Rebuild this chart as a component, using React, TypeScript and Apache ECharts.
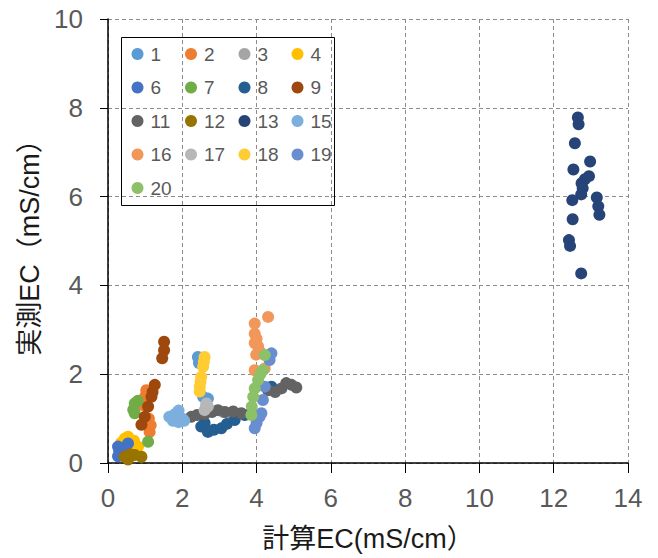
import React, { useEffect, useRef } from "react";
import * as echarts from "echarts";

const xTicks = [0, 2, 4, 6, 8, 10, 12, 14];
const yTicks = [0, 2, 4, 6, 8, 10];

const seriesNames = ["1", "2", "3", "4", "6", "7", "8", "9", "11", "12", "13", "15", "16", "17", "18", "19", "20"];
const seriesColors = ["#5B9BD5", "#ED7D31", "#A5A5A5", "#FFC000", "#4472C4", "#70AD47", "#255E91", "#9E480E", "#636363", "#997300", "#264478", "#7CAFDD", "#F1975A", "#B7B7B7", "#FFCD33", "#698ED0", "#8CC168"];

const s1 = [[2.42, 2.39], [2.45, 2.25], [2.56, 1.49], [2.69, 1.45], [2.65, 1.3]];
const s2 = [[1.03, 1.64], [1.0, 1.5], [1.12, 0.7], [1.15, 0.85], [0.95, 1.3], [1.1, 1.0]];
const s3 = [[3.1, 1.15], [3.3, 1.12]];
const s4 = [[0.54, 0.59], [0.81, 0.37], [0.45, 0.55], [0.7, 0.5], [0.35, 0.45]];
const s6 = [[0.27, 0.37], [0.36, 0.22], [0.54, 0.44], [0.3, 0.28], [0.45, 0.35], [0.27, 0.15]];
const s7 = [[0.72, 1.34], [0.72, 1.12], [0.8, 1.4], [0.68, 1.2], [1.08, 0.48]];
const s8 = [[2.51, 0.82], [2.69, 0.7], [2.85, 0.75], [3.05, 0.78], [3.2, 0.88], [3.41, 0.97], [3.68, 1.08], [4.4, 1.72], [2.6, 0.9]];
const s9 = [[1.51, 2.73], [1.51, 2.54], [1.46, 2.36], [1.26, 1.76], [1.2, 1.6], [1.17, 1.49], [1.08, 1.27], [0.99, 1.04], [0.9, 0.86]];
const s11 = [[2.24, 1.04], [2.4, 1.08], [2.6, 1.1], [2.8, 1.15], [2.96, 1.19], [3.15, 1.15], [3.37, 1.16], [3.59, 1.12], [4.31, 1.64], [4.5, 1.6], [4.67, 1.68], [4.94, 1.76], [5.07, 1.7], [4.8, 1.8]];
const s12 = [[0.45, 0.14], [0.72, 0.18], [0.9, 0.14], [0.54, 0.08], [0.6, 0.2]];
const s13 = [[12.65, 7.78], [12.67, 7.63], [12.57, 7.2], [12.98, 6.79], [12.53, 6.61], [12.95, 6.46], [12.84, 6.39], [12.75, 6.3], [12.78, 6.19], [12.74, 6.05], [12.5, 5.92], [13.16, 5.98], [13.2, 5.78], [13.23, 5.59], [12.51, 5.49], [12.41, 5.02], [12.44, 4.89], [12.74, 4.27]];
const s15 = [[1.65, 1.04], [1.8, 1.1], [1.9, 1.18], [2.0, 1.0], [2.05, 0.95], [1.75, 0.95], [1.9, 0.92]];
const s16 = [[4.31, 3.29], [3.95, 3.14], [3.95, 2.91], [3.95, 2.7], [4.04, 2.63], [3.99, 2.44], [3.95, 2.09], [4.22, 2.13], [4.0, 2.8], [4.1, 2.5]];
const s17 = [[2.65, 1.34], [2.69, 1.27], [2.6, 1.19]];
const s18 = [[2.6, 2.39], [2.58, 2.28], [2.56, 2.17], [2.51, 1.94], [2.49, 1.83], [2.47, 1.72], [2.47, 1.61]];
const s19 = [[4.4, 2.47], [4.35, 2.32], [4.22, 1.72], [4.17, 1.42], [4.13, 1.12], [4.08, 1.04], [3.95, 0.78], [4.0, 0.9]];
const s20 = [[4.22, 2.43], [4.17, 2.09], [4.04, 1.87], [3.95, 1.68], [3.91, 1.49], [3.87, 1.27], [3.86, 1.08], [4.1, 2.0]];

const seriesData = [s1, s2, s3, s4, s6, s7, s8, s9, s11, s12, s13, s15, s16, s17, s18, s19, s20];

const legendColumns = [
  ["1", "6", "11", "16", "20"],
  ["2", "7", "12", "17"],
  ["3", "8", "13", "18"],
  ["4", "9", "15", "19"],
];

const FONT = "'Liberation Sans', Arial, 'Noto Sans CJK JP', sans-serif";

export default function App() {
  const ref = useRef<HTMLDivElement>(null);
  useEffect(() => {
    if (!ref.current) return;
    const chart = echarts.init(ref.current, null, { renderer: "svg" });
    const colLeft = [131.5, 185, 238.5, 291.5];
    const option: any = {
      animation: false,
      backgroundColor: "#ffffff",
      grid: { left: 108, right: 30, top: 19, bottom: 95, containLabel: false },
      xAxis: {
        type: "value",
        min: xTicks[0],
        max: xTicks[xTicks.length - 1],
        interval: 2,
        name: "計算EC(mS/cm）",
        nameLocation: "middle",
        nameGap: 62,
        nameTextStyle: { fontSize: 27, color: "#1a1a1a", fontFamily: FONT },
        axisLine: { show: true, onZero: false, lineStyle: { color: "#000", width: 1.5 } },
        axisTick: { show: true, inside: false, length: 10, lineStyle: { color: "#000", width: 1 } },
        axisLabel: { fontSize: 26, color: "#595959", margin: 22, fontFamily: FONT },
        splitLine: { show: true, lineStyle: { color: "#8c8c8c", type: [4, 3], width: 1 } },
      },
      yAxis: {
        type: "value",
        min: yTicks[0],
        max: yTicks[yTicks.length - 1],
        interval: 2,
        name: "実測EC（mS/cm）",
        nameLocation: "middle",
        nameGap: 61,
        nameRotate: 90,
        nameTextStyle: { fontSize: 27, color: "#1a1a1a", fontFamily: FONT },
        axisLine: { show: true, onZero: false, lineStyle: { color: "#000", width: 1.5 } },
        axisTick: { show: true, inside: false, length: 8, lineStyle: { color: "#000", width: 1 } },
        axisLabel: { fontSize: 26, color: "#595959", margin: 25, fontFamily: FONT },
        splitLine: { show: true, lineStyle: { color: "#8c8c8c", type: [4, 3], width: 1 } },
      },
      legend: legendColumns.map((col, i) => ({
        data: col,
        orient: "vertical",
        left: colLeft[i],
        top: 44.5,
        itemWidth: 12,
        itemHeight: 12,
        itemGap: 14.5,
        icon: "circle",
        padding: 0,
        textStyle: { fontSize: 19, color: "#595959", fontFamily: FONT, padding: [0, 0, 0, 2] },
      })),
      graphic: [
        {
          type: "rect",
          shape: { x: 121.5, y: 37.5, width: 213, height: 168 },
          style: { fill: "none", stroke: "#000", lineWidth: 1 },
          z: 10,
          silent: true,
        },
      ],
      series: seriesNames.map((name, i) => ({
        name,
        type: "scatter",
        data: seriesData[i],
        symbol: "circle",
        symbolSize: 12,
        itemStyle: { color: seriesColors[i], opacity: 1 },
      })),
    };
    chart.setOption(option);
    return () => chart.dispose();
  }, []);
  return <div ref={ref} style={{ width: 658, height: 558, position: "absolute", left: 0, top: 0 }} />;
}
